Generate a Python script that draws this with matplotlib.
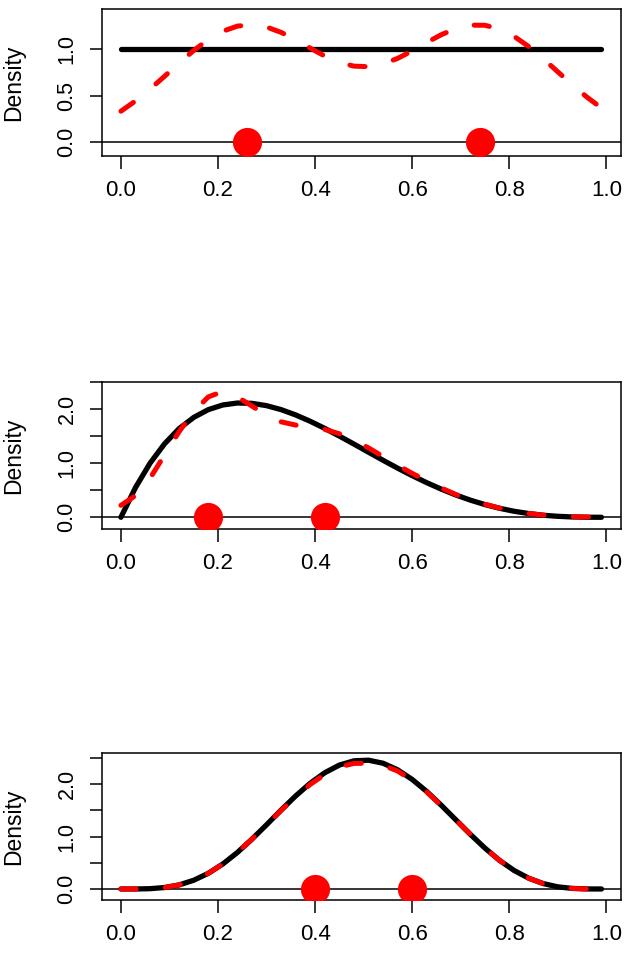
import matplotlib
matplotlib.use("Agg")
import matplotlib.pyplot as plt

plt.rcParams['font.family'] = ['Liberation Sans', 'DejaVu Sans']
plt.rcParams['lines.scale_dashes'] = False

# ---------------- data ----------------
x_grid = [0.00, 0.03, 0.06, 0.09, 0.12, 0.15, 0.18, 0.21, 0.24, 0.27, 0.30, 0.33,
          0.36, 0.39, 0.42, 0.45, 0.48, 0.51, 0.54, 0.57, 0.60, 0.63, 0.66, 0.69,
          0.72, 0.75, 0.78, 0.81, 0.84, 0.87, 0.90, 0.93, 0.96, 0.99]

# panel 1
p1_true_x = [0.00, 0.99]
p1_true_y = [1.0, 1.0]
p1_est = [0.333, 0.443, 0.570, 0.708, 0.850, 0.984, 1.101, 1.190, 1.245, 1.259,
          1.235, 1.178, 1.098, 1.009, 0.924, 0.856, 0.816, 0.810, 0.839, 0.899,
          0.979, 1.069, 1.153, 1.219, 1.255, 1.254, 1.213, 1.135, 1.026, 0.896,
          0.755, 0.615, 0.484, 0.367]
p1_points = [0.26, 0.74]

# panel 2
p2_true = [0.000, 0.548, 0.997, 1.356, 1.636, 1.842, 1.985, 2.071, 2.107, 2.101,
           2.058, 1.985, 1.887, 1.770, 1.639, 1.497, 1.350, 1.200, 1.051, 0.906,
           0.768, 0.638, 0.519, 0.411, 0.316, 0.234, 0.166, 0.111, 0.069, 0.038,
           0.018, 0.006, 0.001, 0.000]
p2_est = [0.22, 0.40, 0.72, 1.15, 1.58, 1.95, 2.22, 2.32, 2.22, 2.05,
          1.88, 1.76, 1.70, 1.66, 1.62, 1.54, 1.42, 1.28, 1.12, 0.96,
          0.81, 0.67, 0.54, 0.42, 0.32, 0.24, 0.17, 0.11, 0.07, 0.04,
          0.02, 0.01, 0.005, 0.002]
p2_points = [0.18, 0.42]

# panel 3
p3_true = [0.000, 0.000, 0.006, 0.028, 0.078, 0.167, 0.299, 0.477, 0.697, 0.951,
           1.225, 1.506, 1.775, 2.018, 2.218, 2.364, 2.445, 2.457, 2.399, 2.274,
           2.090, 1.860, 1.597, 1.319, 1.041, 0.779, 0.546, 0.353, 0.206, 0.103,
           0.041, 0.011, 0.001, 0.000]
p3_est = [0.000, 0.000, 0.006, 0.028, 0.078, 0.167, 0.299, 0.477, 0.697, 0.951,
          1.222, 1.498, 1.760, 1.995, 2.185, 2.330, 2.395, 2.400, 2.360, 2.250,
          2.075, 1.850, 1.592, 1.317, 1.041, 0.779, 0.546, 0.353, 0.206, 0.103,
          0.041, 0.011, 0.001, 0.000]
p3_points = [0.40, 0.60]

x_ticks = [0.0, 0.2, 0.4, 0.6, 0.8, 1.0]
x_ticklabels = ["0.0", "0.2", "0.4", "0.6", "0.8", "1.0"]
y1_ticks = [0.0, 0.5, 1.0]
y1_ticklabels = ["0.0", "0.5", "1.0"]
y23_ticks = [0.0, 0.5, 1.0, 1.5, 2.0, 2.5]
y23_ticklabels = ["0.0", "", "1.0", "", "2.0", ""]
ylabel = "Density"

# ---------------- layout ----------------
W, H = 629, 956
fig = plt.figure(figsize=(W / 100, H / 100), dpi=100)

left = 101.7 / W
width = (620.7 - 101.7) / W
boxes = [(9.3, 156.0), (381.7, 529.0), (752.7, 900.0)]
ylims = [(-0.147, 1.425), (-0.216, 2.50), (-0.21, 2.60)]

panels = [
    (p1_true_x, p1_true_y, x_grid, p1_est, p1_points, y1_ticks, y1_ticklabels),
    (x_grid, p2_true, x_grid, p2_est, p2_points, y23_ticks, y23_ticklabels),
    (x_grid, p3_true, x_grid, p3_est, p3_points, y23_ticks, y23_ticklabels),
]

for (top, bot), ylim, (tx, ty, ex, ey, pts, yt, ytl) in zip(boxes, ylims, panels):
    ax = fig.add_axes([left, 1 - bot / H, width, (bot - top) / H])
    ax.axhline(0, color='black', lw=1.1, zorder=1)
    ax.plot(tx, ty, color='black', lw=3.8, solid_capstyle='round',
            solid_joinstyle='round', zorder=2)
    ax.plot(ex, ey, color='#ff0000', lw=3.6, dashes=(11, 21),
            dash_capstyle='round', dash_joinstyle='round', zorder=3)
    ax.plot(pts, [0] * len(pts), 'o', color='#ff0000', ms=21, mec='none',
            zorder=4)
    ax.set_xlim(-0.0396, 1.0296)
    ax.set_ylim(*ylim)
    ax.set_xticks(x_ticks)
    ax.set_xticklabels(x_ticklabels, fontsize=16)
    ax.set_yticks(yt)
    ax.set_yticklabels(ytl, fontsize=15.5, rotation=90, va='center')
    ax.tick_params(axis='both', length=9, width=1.1, direction='out',
                   pad=8.5, color='black')
    for s in ax.spines.values():
        s.set_linewidth(1.1)
    ax.set_ylabel(ylabel, fontsize=16.5)
    ax.yaxis.set_label_coords(-0.148, 0.5)

fig.savefig("out.png", dpi=100)
